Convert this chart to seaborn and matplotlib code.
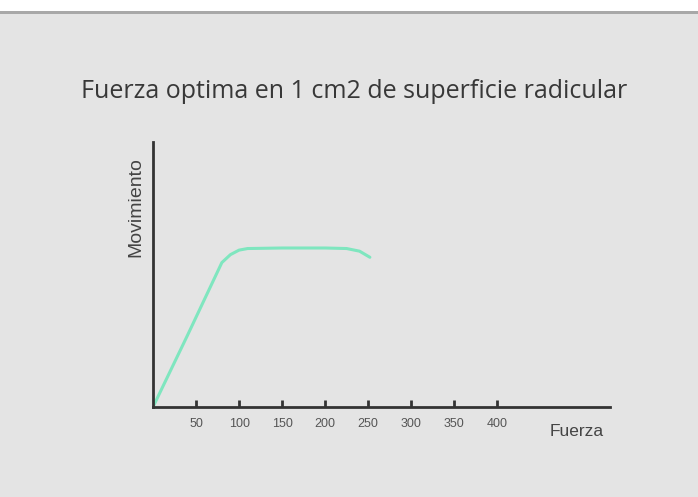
import matplotlib
matplotlib.use("Agg")
import matplotlib.pyplot as plt
import seaborn as sns
import pandas as pd
from matplotlib.patches import Rectangle

# datos
fuerza = [0, 40, 80, 90, 100, 110, 150, 200, 225, 240, 252]
movimiento = [0, 27, 54.5, 57.5, 59.2, 59.8, 60, 60, 59.8, 58.8, 56.5]
ticks_x = [50, 100, 150, 200, 250, 300, 350, 400]

df = pd.DataFrame({"Fuerza": fuerza, "Movimiento": movimiento})

sns.set_style("white")
plt.rcParams["font.family"] = ["Open Sans", "DejaVu Sans"]
narrow = ["Liberation Sans Narrow", "Liberation Sans", "DejaVu Sans"]

fig = plt.figure(figsize=(6.98, 4.97), dpi=100)
fig.patch.set_facecolor("#e4e4e4")
# franja blanca arriba
fig.add_artist(Rectangle((0, 1 - 11 / 497), 1, 11 / 497, transform=fig.transFigure,
                         facecolor="white", edgecolor="none"))
fig.add_artist(Rectangle((0, 1 - 14 / 497), 1, 3 / 497, transform=fig.transFigure,
                         facecolor="#a8a8a8", edgecolor="none"))

ax = fig.add_axes([153 / 698, 90 / 497, (610 - 153) / 698, (407 - 142) / 497])
ax.set_facecolor("#e4e4e4")
sns.lineplot(data=df, x="Fuerza", y="Movimiento", ax=ax, color="#7fe6bf", linewidth=2.2)

ax.set_xlim(0, 531)
ax.set_ylim(0, 100)
ax.set_xticks(ticks_x)
ax.set_xticklabels([str(t) for t in ticks_x], fontsize=9, color="#555555", family=narrow)
ax.set_yticks([])
ax.tick_params(axis="x", bottom=True, direction="in", length=5, width=2,
               color="#333333", pad=8)
ax.set_xlabel("")
ax.set_ylabel("")
for s in ["top", "right"]:
    ax.spines[s].set_visible(False)
for s in ["left", "bottom"]:
    ax.spines[s].set_color("#333333")
    ax.spines[s].set_linewidth(2)

ax.text(-17 / 457, 0.755, "Movimiento", transform=ax.transAxes, rotation=90,
        ha="center", va="center", fontsize=14, color="#444444", family=narrow)
ax.text(577 / 698, 66 / 497, "Fuerza", transform=fig.transFigure, ha="center",
        va="center", fontsize=12.5, color="#444444", family=["Liberation Sans", "DejaVu Sans"])

fig.text(354 / 698, 1 - 91 / 497, "Fuerza optima en 1 cm2 de superficie radicular",
         ha="center", va="center", fontsize=18, color="#383838", fontweight="medium")

fig.savefig("out.png", dpi=100, facecolor=fig.get_facecolor())
